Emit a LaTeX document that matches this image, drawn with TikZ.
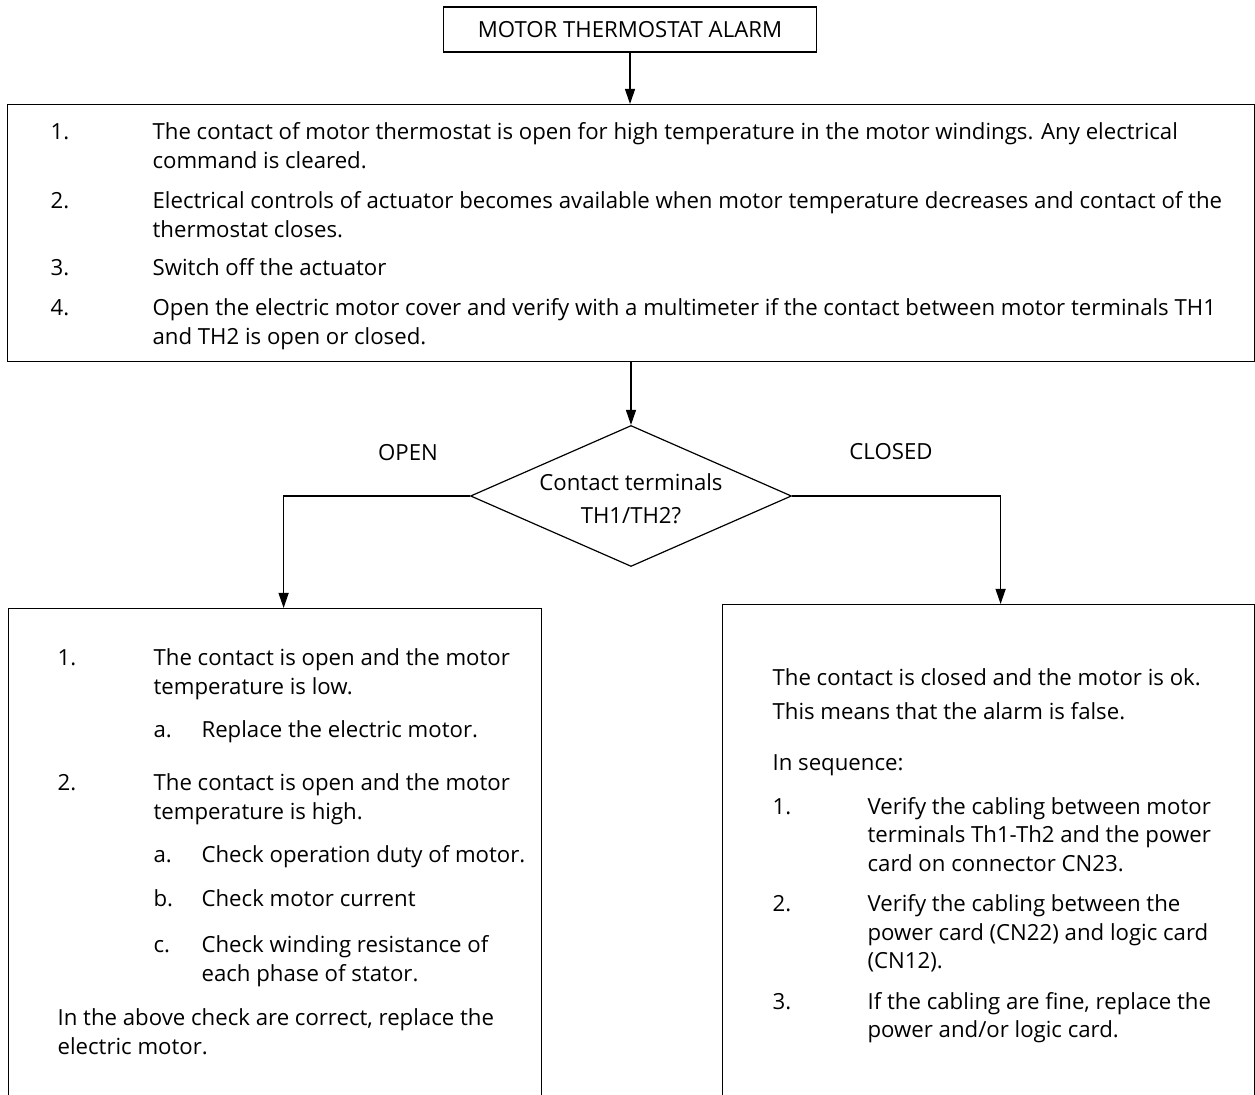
\documentclass[tikz,border=0pt]{standalone}
\usepackage{fontspec}
\setmainfont{Open Sans}
\usetikzlibrary{positioning,shapes.geometric,arrows.meta}
\tikzset{flow box/.style={draw,line width=0.6pt,inner sep=0pt,anchor=north west},
  title box/.style={draw,line width=0.6pt,minimum width=186.5pt,minimum height=22.5pt,inner sep=0pt},
  check node/.style={draw,diamond,aspect=3,line width=0.6pt,minimum width=160.5pt,minimum height=70.5pt,inner sep=0pt},
  flow line/.style={line width=0.6pt,-{Triangle[width=5pt,length=7.5pt]}},}
\newcommand{\boxtext}[3]{\parbox[c][#1][t]{#2}{\raggedright\parskip=0pt #3}}
\newcommand{\stepitem}[4]{\par\leftskip=#1\hangindent=#2\hangafter=1\noindent\rule{0pt}{10pt}\makebox[#2][l]{#3}#4\par}

\begin{document}
\fontsize{11.1pt}{14.5pt}\selectfont
\begin{tikzpicture}[x=0.5pt,y=-0.5pt]
          \useasboundingbox (0,0) rectangle (1255,1095);
          \clip (0,0) rectangle (1255,1095);
          \node[title box] (title) at (630,29.5) {MOTOR THERMOSTAT ALARM};
          \node[flow box] (steps) at (7,104) {\boxtext{128.5pt}{623.5pt}{\baselineskip=14.5pt\vspace*{7.5pt}
            \stepitem{21.5pt}{51pt}{1.}{The contact of motor thermostat is open for high temperature in the motor windings. Any electrical\newline command is cleared.}\vspace{5.5pt}
            \stepitem{21.5pt}{51pt}{2.}{Electrical controls of actuator becomes available when motor temperature decreases and contact of the\newline thermostat closes.}\vspace{4.5pt}
            \stepitem{21.5pt}{51pt}{3.}{Switch off the actuator}\vspace{5.5pt}
            \stepitem{21.5pt}{51pt}{4.}{Open the electric motor cover and verify with a multimeter if the contact between motor terminals TH1\newline and TH2 is open or closed.}}};
          \node[check node] (check) at (631,496) {\smash{\raisebox{-5.5pt}{\begin{tabular}{@{}c@{}}Contact terminals\\[2pt]TH1/TH2?\end{tabular}}}};
          \node (openlbl) at (408,453) {OPEN};
          \node (closedlbl) at (891,452) {CLOSED};
          \node[flow box] (openbox) at (8,608) {\boxtext{250pt}{266.5pt}{\baselineskip=14.5pt\vspace*{18.5pt}
            \stepitem{24.5pt}{48pt}{1.}{The contact is open and the motor\newline temperature is low.}\vspace{7pt}
            \stepitem{72.5pt}{24pt}{a.}{Replace the electric motor.}\vspace{12pt}
            \stepitem{24.5pt}{48pt}{2.}{The contact is open and the motor\newline temperature is high.}\vspace{7pt}
            \stepitem{72.5pt}{24pt}{a.}{Check operation duty of motor.}\vspace{7.5pt}
            \stepitem{72.5pt}{24pt}{b.}{Check motor current}\vspace{8.5pt}
            \stepitem{72.5pt}{24pt}{c.}{Check winding resistance of\newline each phase of stator.}\vspace{7.5pt}
            \stepitem{24.5pt}{0pt}{}{In the above check are correct, replace the\newline electric motor.}}};
          \node[flow box] (closedbox) at (722,604) {\boxtext{250pt}{266pt}{\baselineskip=14.25pt\vspace*{30.5pt}
            \stepitem{25pt}{0pt}{}{The contact is closed and the motor is ok.}\vspace{2.5pt}
            \stepitem{25pt}{0pt}{}{This means that the alarm is false.}\vspace{11.5pt}
            \stepitem{25pt}{0pt}{}{In sequence:}\vspace{7.5pt}
            \stepitem{25pt}{47.5pt}{1.}{Verify the cabling between motor\newline terminals Th1-Th2 and the power\newline card on connector CN23.}\vspace{6pt}
            \stepitem{25pt}{47.5pt}{2.}{Verify the cabling between the\newline power card (CN22) and logic card\newline (CN12).}\vspace{6pt}
            \stepitem{25pt}{47.5pt}{3.}{If the cabling are fine, replace the\newline power and/or logic card.}}};

          \draw[flow line] (title.south) -- (title.south |- steps.north);
          \draw[flow line] (steps.south -| check.north) -- (check.north);
          \draw[flow line] (check.west) -| ([xshift=4.25pt]openbox.north);
          \draw[flow line] (check.east) -| ([xshift=6pt]closedbox.north);
        \end{tikzpicture}
\end{document}
